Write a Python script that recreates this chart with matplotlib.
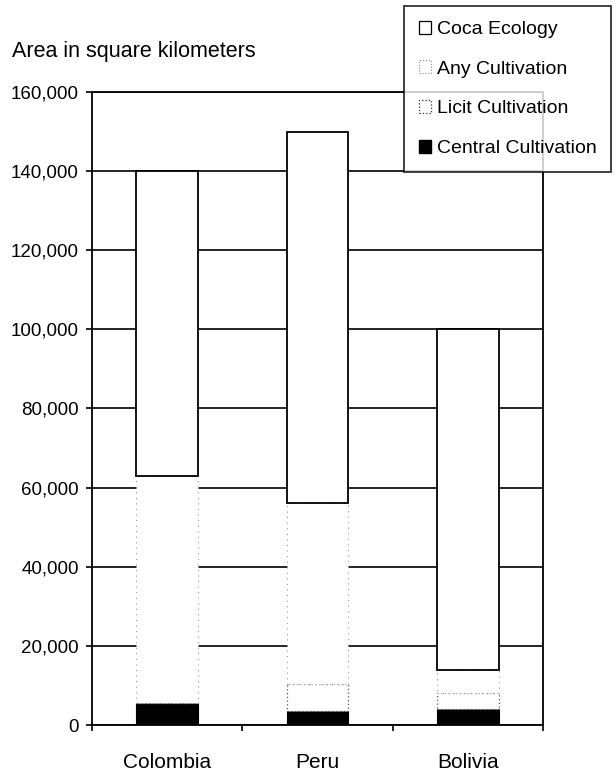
import matplotlib
matplotlib.use("Agg")
import matplotlib.pyplot as plt
from matplotlib.patches import Patch
from matplotlib.ticker import FuncFormatter
import numpy as np

plt.rcParams["font.family"] = ["Liberation Sans", "DejaVu Sans"]

# ── data (stacked segments, km²) ──────────────────────────────────────────────
countries = ["Colombia", "Peru", "Bolivia"]
central_cultivation = [5600, 3500, 4000]
licit_cultivation = [0, 6800, 4000]
any_cultivation = [57400, 45700, 5800]
coca_ecology = [77000, 94000, 86200]
y_ticks = [0, 20000, 40000, 60000, 80000, 100000, 120000, 140000, 160000]

# ── plot ──────────────────────────────────────────────────────────────────────
W, H = 616, 775
fig = plt.figure(figsize=(W / 100, H / 100), dpi=100)
ax = fig.add_axes([92 / W, 50 / H, (543 - 92) / W, (725 - 92) / H])

x = np.arange(len(countries))
width = 0.41

bottom = np.zeros(len(countries))
ax.bar(x, central_cultivation, width, bottom=bottom, color="black",
       edgecolor="black", linewidth=0.8, zorder=3)
bottom += central_cultivation
ax.bar(x, licit_cultivation, width, bottom=bottom, color="white",
       edgecolor="#555555", linewidth=0.9, linestyle=(0, (1, 2)), zorder=3)
bottom += licit_cultivation
ax.bar(x, any_cultivation, width, bottom=bottom, color="white",
       edgecolor="#999999", linewidth=0.8, linestyle=(0, (1, 4)), zorder=3)
bottom += any_cultivation
ax.bar(x, coca_ecology, width, bottom=bottom, color="white",
       edgecolor="black", linewidth=1.3, zorder=4)

ax.set_xlim(-0.5, 2.5)
ax.set_ylim(0, 160000)
ax.set_yticks(y_ticks)
ax.yaxis.set_major_formatter(FuncFormatter(lambda v, _: f"{int(v):,}"))
ax.yaxis.grid(True, color="black", linewidth=1.2)
ax.set_axisbelow(True)

ax.set_xticks([-0.5, 0.5, 1.5, 2.5])
ax.set_xticklabels([])
ax.set_xticks(x, minor=True)
ax.set_xticklabels(countries, minor=True, fontsize=15)
ax.tick_params(axis="x", which="major", direction="out", length=4.5, width=1.2)
ax.tick_params(axis="x", which="minor", length=0, pad=20)
ax.tick_params(axis="y", direction="out", length=4.5, width=1.2, pad=5,
               labelsize=13.5)
for s in ax.spines.values():
    s.set_linewidth(1.3)

fig.text(12 / W, 1 - 57 / H, "Area in square kilometers", fontsize=15.5,
         va="baseline", ha="left")

handles = [
    Patch(facecolor="white", edgecolor="black", linewidth=0.9),
    Patch(facecolor="white", edgecolor="#888888", linewidth=0.8, linestyle=":"),
    Patch(facecolor="white", edgecolor="#333333", linewidth=0.9, linestyle=":"),
    Patch(facecolor="black", edgecolor="black"),
]
labels = ["Coca Ecology", "Any Cultivation", "Licit Cultivation", "Central Cultivation"]
leg = fig.legend(handles, labels, loc="upper left",
                 bbox_to_anchor=(404 / W, 1 - 6 / H), fontsize=14,
                 frameon=True, fancybox=False, edgecolor="black",
                 handlelength=0.65, handleheight=0.65, handletextpad=0.3,
                 labelspacing=1.15, borderpad=0.75, borderaxespad=0)
leg.get_frame().set_linewidth(1.3)
leg.set_zorder(10)

plt.savefig("out.png", dpi=100)
